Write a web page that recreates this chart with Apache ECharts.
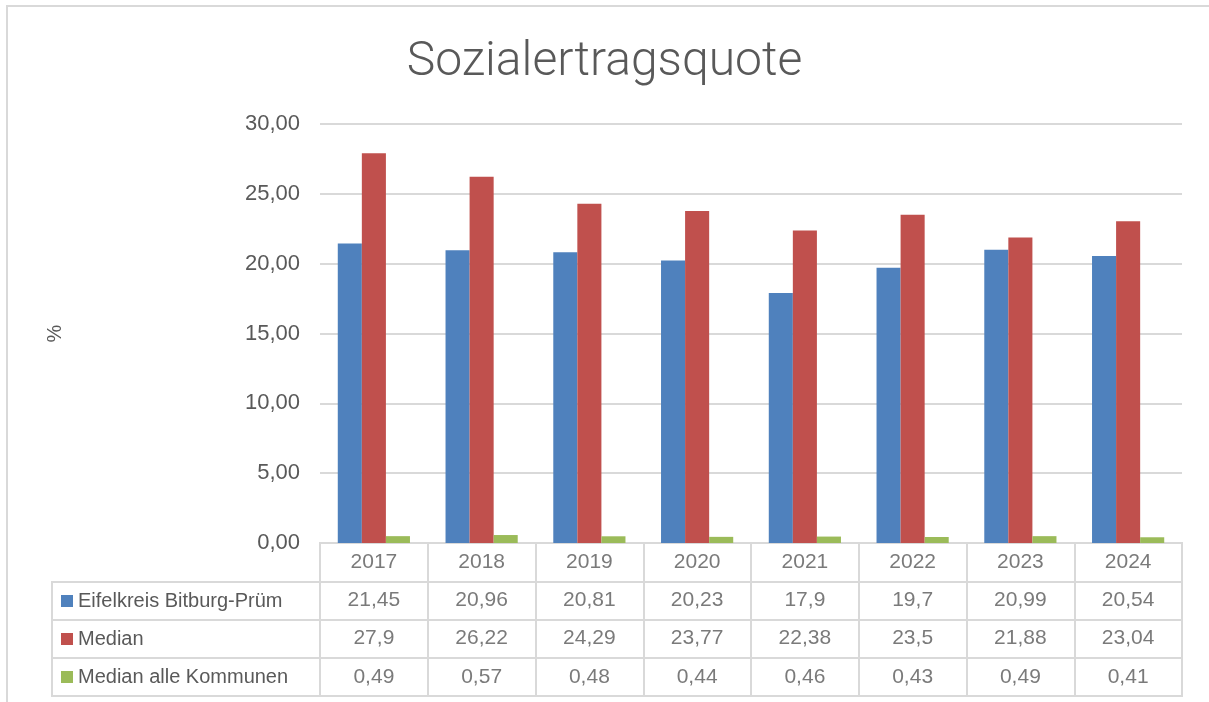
<!DOCTYPE html>
<html>
<head>
<meta charset="utf-8">
<script src="https://cdn.jsdelivr.net/npm/echarts@6/dist/echarts.min.js"></script>
<style>html,body{margin:0;padding:0;background:#fff}#c{width:1209px;height:702px}</style>
</head>
<body>
<div id="c"></div>
<script>
const years = ['2017','2018','2019','2020','2021','2022','2023','2024'];
const seriesNames = ['Eifelkreis Bitburg-Prüm','Median','Median alle Kommunen'];
const eifelkreis = [21.45,20.96,20.81,20.23,17.9,19.7,20.99,20.54];
const median = [27.9,26.22,24.29,23.77,22.38,23.5,21.88,23.04];
const medianAlle = [0.49,0.57,0.48,0.44,0.46,0.43,0.49,0.41];
const colors = ['#4f81bd','#c0504d','#9bbb59'];

const seriesValues = [eifelkreis, median, medianAlle];
const fmt = v => String(v).replace('.', ',');
const txt = '#595959';
const line = '#d9d9d9';

// table cells: header row + one row per series
const cells = [];
years.forEach((y, i) => {
  cells.push([i, 0, y]);
  seriesValues.forEach((arr, r) => cells.push([i, r + 1, fmt(arr[i])]));
});

const chart = echarts.init(document.getElementById('c'));
chart.setOption({
  animation: false,
  color: colors,
  title: {
    text: 'Sozialertragsquote',
    left: 'center',
    top: 34,
    textStyle: { fontFamily: 'Roboto', fontWeight: 300, fontSize: 48, color: txt }
  },
  legend: {
    data: seriesNames,
    orient: 'vertical',
    left: 61,
    top: 582,
    padding: 0,
    itemGap: 0,
    itemWidth: 12,
    itemHeight: 12,
    icon: 'rect',
    selectedMode: false,
    textStyle: { fontFamily: 'Liberation Sans', fontSize: 20, color: txt, lineHeight: 38 }
  },
  graphic: [{
    type: 'rect', z: -10, silent: true,
    shape: { x: 7, y: 6, width: 1400, height: 900 },
    style: { fill: 'none', stroke: line, lineWidth: 2 }
  }],
  grid: [
    { left: 320, right: 27, top: 124, height: 419 },
    { left: 320, right: 27, top: 543, height: 153, show: true, borderColor: line, borderWidth: 2 },
    { left: 52, width: 268, top: 582, height: 114, show: true, borderColor: line, borderWidth: 2 }
  ],
  xAxis: [
    { gridIndex: 0, type: 'category', data: years, axisLine: { show: false }, axisTick: { show: false }, axisLabel: { show: false } },
    { gridIndex: 1, type: 'category', data: years, axisLine: { show: false }, axisTick: { show: false }, axisLabel: { show: false },
      splitLine: { show: true, lineStyle: { color: line, width: 2 } } },
    { gridIndex: 2, type: 'category', data: [''], axisLine: { show: false }, axisTick: { show: false }, axisLabel: { show: false } }
  ],
  yAxis: [
    { gridIndex: 0, type: 'value', min: 0, max: 30, interval: 5,
      name: '%', nameLocation: 'middle', nameRotate: 90, nameGap: 255,
      nameTextStyle: { fontFamily: 'Liberation Sans', fontSize: 20, color: txt },
      axisLine: { show: false }, axisTick: { show: false },
      axisLabel: { margin: 20, fontFamily: 'Liberation Sans', fontSize: 22, color: txt,
        formatter: v => v.toFixed(2).replace('.', ',') },
      splitLine: { lineStyle: { color: line, width: 2 } } },
    { gridIndex: 1, type: 'category', inverse: true, data: ['h'].concat(seriesNames),
      axisLine: { show: false }, axisTick: { show: false }, axisLabel: { show: false },
      splitLine: { show: true, lineStyle: { color: line, width: 2 } } },
    { gridIndex: 2, type: 'category', inverse: true, data: seriesNames,
      axisLine: { show: false }, axisTick: { show: false }, axisLabel: { show: false },
      splitLine: { show: true, lineStyle: { color: line, width: 2 } } }
  ],
  series: seriesNames.map((n, k) => ({
    name: n, type: 'bar', xAxisIndex: 0, yAxisIndex: 0,
    data: seriesValues[k], barGap: '0%', barCategoryGap: '33%'
  })).concat([{
    type: 'scatter', xAxisIndex: 1, yAxisIndex: 1, silent: true,
    symbolSize: 1, itemStyle: { color: 'rgba(0,0,0,0)' },
    data: cells,
    label: { show: true, position: 'inside', fontFamily: 'Liberation Sans', fontSize: 21, color: txt,
      formatter: p => p.value[2] }
  }])
});
</script>
</body>
</html>
